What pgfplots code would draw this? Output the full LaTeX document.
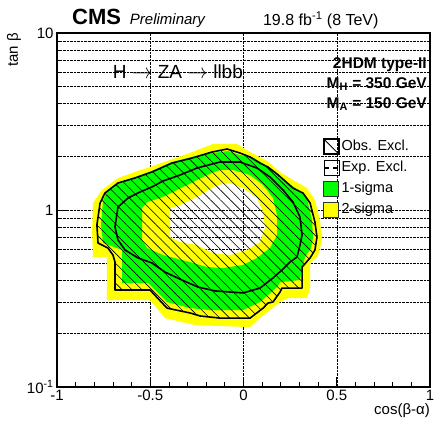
\documentclass[border=0pt]{standalone}
\usepackage{fontspec}
\setmainfont{Liberation Sans}
\usepackage{pgfplots}
\pgfplotsset{compat=1.18}
\usetikzlibrary{patterns.meta}
\definecolor{rootgreen}{RGB}{0,255,0}
\definecolor{rootyellow}{RGB}{255,255,0}

\begin{document}
\begin{tikzpicture}
\begin{axis}[
  set layers, clip mode=individual,
  scale only axis, width=373bp, height=354bp,
  xmin=-1, xmax=1, ymode=log, ymin=0.1, ymax=10,
  xtick={-1,-0.5,0,0.5,1}, xticklabels={-1,-0.5,0,0.5,1},
  minor x tick num=4,
  ytick={0.1,1,10}, yticklabels={10\textsuperscript{-1},1,10},
  minor ytick={0.2,0.3,0.4,0.5,0.6,0.7,0.8,0.9,2,3,4,5,6,7,8,9},
  tick pos=left, tick align=inside,
  major tick length=10bp, minor tick length=5bp,
  xmajorgrids, ymajorgrids, yminorgrids,
  grid style={black, densely dotted, line width=0.5bp},
  every tick/.style={black, line width=0.8bp},
  axis line style={line width=1.2bp},
  tick label style={font=\fontsize{15bp}{15bp}\selectfont},
  xlabel={cos(β-α)},
  xlabel style={at={(axis description cs:1,-0.068)}, anchor=east, inner sep=0pt, font=\fontsize{15bp}{15bp}\selectfont},
  ylabel={tan β},
  ylabel style={at={(axis description cs:-0.115,1)}, anchor=east, inner sep=0pt, font=\fontsize{15bp}{15bp}\selectfont},
  unbounded coords=jump,
  legend style={draw=none, fill=none, at={(axis description cs:0.713,0.703)}, anchor=north west,
    inner sep=0pt, row sep=4.7bp, column sep=1bp,
    font=\fontsize{14.5bp}{15bp}\selectfont,
    nodes={inner sep=1bp, text height=11bp, text depth=3.5bp}},
  legend cell align=left,
]
\addlegendimage{legend image code/.code={\draw[black, line width=1.4bp] (0bp,-7.5bp) rectangle (15bp,7.5bp); \draw[black, line width=0.8bp] (0bp,7.5bp) -- (15bp,-7.5bp);}}
\addlegendentry{Obs. Excl.}
\addlegendimage{legend image code/.code={\path (0bp,-7.5bp) rectangle (15bp,7.5bp); \draw[black, line width=1.5bp] (0.5bp,0bp) -- (5.5bp,0bp) (9.5bp,0bp) -- (14.5bp,0bp);}}
\addlegendentry{Exp. Excl.}
\addlegendimage{legend image code/.code={\draw[fill=rootgreen, draw=black!80, line width=0.8bp] (0bp,-7.5bp) rectangle (15bp,7.5bp);}}
\addlegendentry{1-sigma}
\addlegendimage{legend image code/.code={\draw[fill=rootyellow, draw=black!80, line width=0.8bp] (0bp,-7.5bp) rectangle (15bp,7.5bp);}}
\addlegendentry{2-sigma}

% 2-sigma band (outer edge, hole = inner edge)
\addplot[draw=none, fill=rootyellow, even odd rule] coordinates {
(-0.807,1.095) (-0.759,1.297) (-0.673,1.516) (-0.582,1.640) (-0.501,1.750) (-0.394,1.917)
(-0.303,2.072) (-0.206,2.270) (-0.164,2.360) (-0.035,2.360) (0.035,2.126) (0.126,1.892)
(0.196,1.640) (0.265,1.477) (0.340,1.331) (0.383,1.139) (0.410,0.878) (0.421,0.677)
(0.399,0.550) (0.357,0.502) (0.357,0.362) (0.340,0.318) (0.239,0.318) (0.196,0.302)
(0.142,0.272) (0.088,0.245) (0.035,0.218) (-0.126,0.221) (-0.260,0.224) (-0.421,0.245)
(-0.501,0.310) (-0.732,0.310) (-0.732,0.543) (-0.807,0.543) (-0.812,0.771)
(nan,nan)
(-0.394,1.026) (-0.340,1.067) (-0.233,1.215) (-0.142,1.384) (-0.072,1.421) (-0.003,1.331)
(0.072,1.169) (0.105,0.974) (0.115,0.791) (0.088,0.659) (0.019,0.594) (-0.072,0.557)
(-0.164,0.571) (-0.249,0.634) (-0.340,0.659) (-0.394,0.704)
};
% 1-sigma band
\addplot[draw=none, fill=rootgreen, even odd rule] coordinates {
(-0.753,1.139) (-0.727,1.297) (-0.662,1.439) (-0.582,1.536) (-0.491,1.661) (-0.383,1.867)
(-0.276,1.993) (-0.169,2.099) (-0.083,2.154) (-0.019,2.045) (0.046,1.993) (0.099,1.843)
(0.142,1.727) (0.196,1.556) (0.239,1.421) (0.292,1.297) (0.340,1.169) (0.367,0.878)
(0.373,0.704) (0.362,0.610) (0.330,0.543) (0.314,0.470) (0.303,0.402) (0.196,0.391)
(0.180,0.367) (0.131,0.331) (0.088,0.302) (-0.003,0.272) (-0.180,0.272) (-0.287,0.279)
(-0.410,0.302) (-0.512,0.387) (-0.651,0.387) (-0.651,0.594) (-0.753,0.651) (-0.764,0.823)
(nan,nan)
(-0.544,1.026) (-0.517,1.110) (-0.432,1.184) (-0.303,1.384) (-0.196,1.576) (-0.126,1.683)
(-0.056,1.683) (0.035,1.576) (0.105,1.384) (0.158,1.169) (0.180,0.937) (0.180,0.722)
(0.142,0.610) (0.072,0.536) (-0.003,0.489) (-0.110,0.470) (-0.196,0.476) (-0.287,0.508)
(-0.432,0.557) (-0.517,0.610) (-0.544,0.677)
};
% observed exclusion: hatched area and contour
\addplot[draw=none, pattern={Lines[angle=-45, distance=7bp, line width=0.6bp]}] coordinates {
(-0.769,1.095) (-0.743,1.247) (-0.673,1.421) (-0.582,1.516) (-0.491,1.640) (-0.383,1.843)
(-0.276,1.967) (-0.169,2.126) (-0.088,2.211) (-0.019,2.099) (0.035,1.993) (0.088,1.843)
(0.131,1.750) (0.180,1.597) (0.223,1.458) (0.265,1.331) (0.319,1.247) (0.357,1.095)
(0.383,0.855) (0.394,0.704) (0.383,0.594) (0.357,0.536) (0.314,0.476) (0.314,0.362)
(0.206,0.362) (0.196,0.344) (0.158,0.302) (0.131,0.298) (0.105,0.279) (0.035,0.245)
(-0.126,0.245) (-0.233,0.252) (-0.287,0.262) (-0.410,0.279) (-0.501,0.353) (-0.689,0.353)
(-0.689,0.508) (-0.700,0.557) (-0.727,0.610) (-0.780,0.651) (-0.786,0.823)
};
\addplot[black, line width=1.6bp, line join=round] coordinates {
(-0.769,1.095) (-0.743,1.247) (-0.673,1.421) (-0.582,1.516) (-0.491,1.640) (-0.383,1.843)
(-0.276,1.967) (-0.169,2.126) (-0.088,2.211) (-0.019,2.099) (0.035,1.993) (0.088,1.843)
(0.131,1.750) (0.180,1.597) (0.223,1.458) (0.265,1.331) (0.319,1.247) (0.357,1.095)
(0.383,0.855) (0.394,0.704) (0.383,0.594) (0.357,0.536) (0.314,0.476) (0.314,0.362)
(0.206,0.362) (0.196,0.344) (0.158,0.302) (0.131,0.298) (0.105,0.279) (0.035,0.245)
(-0.126,0.245) (-0.233,0.252) (-0.287,0.262) (-0.410,0.279) (-0.501,0.353) (-0.689,0.353)
(-0.689,0.508) (-0.700,0.557) (-0.727,0.610) (-0.780,0.651) (-0.786,0.823) (-0.769,1.095)
};
% expected contour
\addplot[black, line width=1.6bp, line join=round] coordinates {
(-0.673,1.040) (-0.619,1.169) (-0.555,1.264) (-0.491,1.349) (-0.432,1.458) (-0.340,1.576)
(-0.249,1.727) (-0.126,1.867) (-0.019,1.867) (0.072,1.727) (0.142,1.536) (0.212,1.297)
(0.265,1.110) (0.303,0.913) (0.314,0.722) (0.303,0.634) (0.287,0.543) (0.249,0.508)
(0.206,0.458) (0.158,0.413) (0.088,0.362) (-0.003,0.340) (-0.153,0.349) (-0.244,0.367)
(-0.330,0.402) (-0.421,0.446) (-0.491,0.502) (-0.566,0.536) (-0.635,0.594) (-0.673,0.677)
(-0.689,0.802) (-0.673,1.040)
};

\node[anchor=base west, inner sep=0pt, font=\fontsize{22bp}{22bp}\selectfont\bfseries] at (axis description cs:0.040,1.0226) {CMS};
\node[anchor=base west, inner sep=0pt, font=\fontsize{15bp}{15bp}\selectfont\itshape] at (axis description cs:0.195,1.0226) {Preliminary};
\node[anchor=base west, inner sep=0pt, font=\fontsize{16bp}{16bp}\selectfont] at (axis description cs:0.552,1.0198) {19.8 fb\textsuperscript{-1} (8 TeV)};
\node[anchor=center, inner sep=0pt, font=\fontsize{19bp}{19bp}\selectfont] at (axis description cs:0.324,0.890) {H $\rightarrow$ ZA $\rightarrow$ llbb};
\node[anchor=base east, inner sep=0pt, font=\fontsize{15.5bp}{15.5bp}\selectfont\bfseries] at (axis description cs:0.992,0.9011) {2HDM type-II};
\node[anchor=base east, inner sep=0pt, font=\fontsize{15.5bp}{15.5bp}\selectfont\bfseries] at (axis description cs:0.992,0.8446) {M\textsubscript{H} = 350 GeV};
\node[anchor=base east, inner sep=0pt, font=\fontsize{15.5bp}{15.5bp}\selectfont\bfseries] at (axis description cs:0.992,0.7881) {M\textsubscript{A} = 150 GeV};
\end{axis}
\pgfresetboundingbox
\useasboundingbox (-57bp,-38bp) rectangle (377bp,387bp);
\end{tikzpicture}
\end{document}
